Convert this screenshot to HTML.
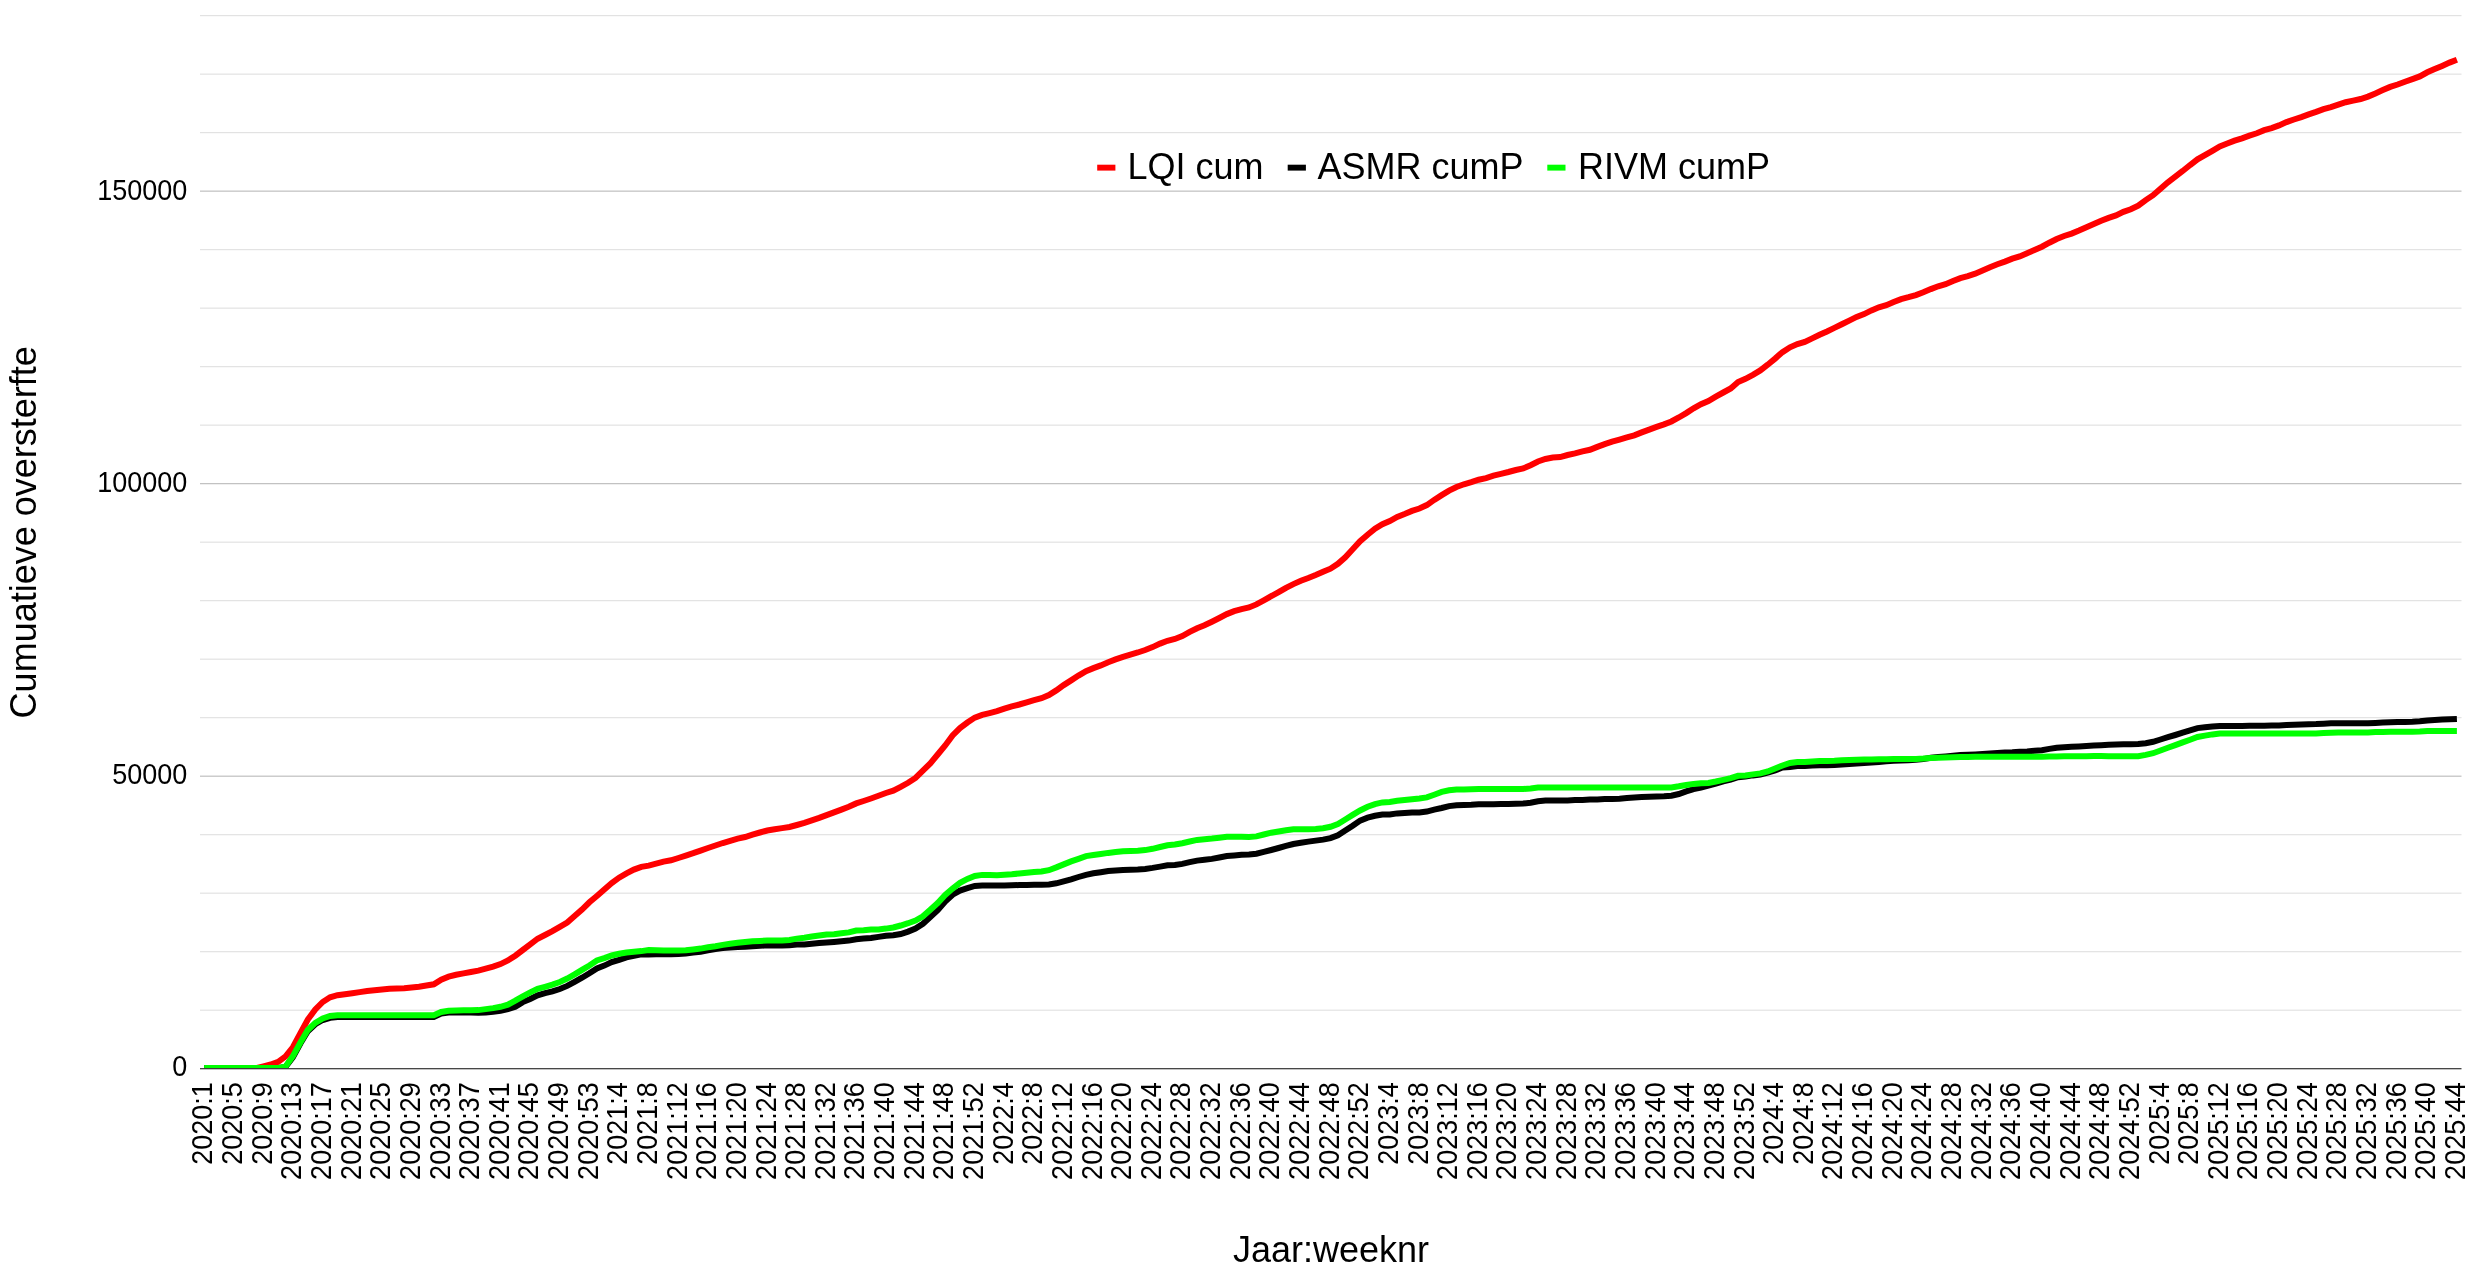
<!DOCTYPE html>
<html lang="nl"><head><meta charset="utf-8"><title>Cumuatieve oversterfte</title>
<style>
html,body{margin:0;padding:0;background:#fff;}
body{width:2474px;height:1269px;overflow:hidden;}
svg{display:block;will-change:transform;}
text{font-family:"Liberation Sans",Arial,sans-serif;fill:#000;}
.lab{font-size:27px;}
.ttl{font-size:36px;}
.leg{font-size:36px;fill:#1a1a1a;}
.ser{fill:none;stroke-width:6;stroke-linejoin:miter;stroke-linecap:butt;}
</style></head><body>
<svg width="2474" height="1269" viewBox="0 0 2474 1269">
<defs><clipPath id="plot"><rect x="200.0" y="0" width="2261.5" height="1068.2"/></clipPath></defs>
<rect width="2474" height="1269" fill="#fff"/>
<g id="grid" shape-rendering="auto">
<rect x="200.0" y="1009.62" width="2261.5" height="1.15" fill="#e1e1e1"/>
<rect x="200.0" y="951.12" width="2261.5" height="1.15" fill="#e1e1e1"/>
<rect x="200.0" y="892.61" width="2261.5" height="1.15" fill="#e1e1e1"/>
<rect x="200.0" y="834.11" width="2261.5" height="1.15" fill="#e1e1e1"/>
<rect x="200.0" y="775.61" width="2261.5" height="1.15" fill="#bdbdbd"/>
<rect x="200.0" y="717.10" width="2261.5" height="1.15" fill="#e1e1e1"/>
<rect x="200.0" y="658.60" width="2261.5" height="1.15" fill="#e1e1e1"/>
<rect x="200.0" y="600.09" width="2261.5" height="1.15" fill="#e1e1e1"/>
<rect x="200.0" y="541.59" width="2261.5" height="1.15" fill="#e1e1e1"/>
<rect x="200.0" y="483.09" width="2261.5" height="1.15" fill="#bdbdbd"/>
<rect x="200.0" y="424.58" width="2261.5" height="1.15" fill="#e1e1e1"/>
<rect x="200.0" y="366.08" width="2261.5" height="1.15" fill="#e1e1e1"/>
<rect x="200.0" y="307.57" width="2261.5" height="1.15" fill="#e1e1e1"/>
<rect x="200.0" y="249.07" width="2261.5" height="1.15" fill="#e1e1e1"/>
<rect x="200.0" y="190.57" width="2261.5" height="1.15" fill="#bdbdbd"/>
<rect x="200.0" y="132.06" width="2261.5" height="1.15" fill="#e1e1e1"/>
<rect x="200.0" y="73.56" width="2261.5" height="1.15" fill="#e1e1e1"/>
<rect x="200.0" y="15.05" width="2261.5" height="1.15" fill="#e1e1e1"/>
</g>
<g class="lab" text-anchor="end">
<text transform="translate(187.3,1075.6) scale(1,1.06)">0</text>
<text transform="translate(187.3,784.0) scale(1,1.06)">50000</text>
<text transform="translate(187.3,492.0) scale(1,1.06)">100000</text>
<text transform="translate(187.3,200.1) scale(1,1.06)">150000</text>
</g>
<g clip-path="url(#plot)">
<path class="ser" stroke="#ff0000" d="M204.1,1068.1L211.5,1068.1L218.9,1068.1L226.3,1068.1L233.7,1068.1L241.2,1068.1L248.6,1068.1L256.0,1068.1L263.4,1066.3L270.8,1064.5L278.2,1061.8L285.6,1056.3L293.0,1047.0L300.4,1033.3L307.8,1019.5L315.3,1009.5L322.7,1002.0L330.1,997.3L337.5,995.2L344.9,994.2L352.3,993.2L359.7,992.1L367.1,991.0L374.5,990.3L382.0,989.5L389.4,988.8L396.8,988.5L404.2,988.2L411.6,987.5L419.0,986.7L426.4,985.5L433.8,984.3L441.2,979.6L448.6,976.7L456.1,974.8L463.5,973.4L470.9,972.0L478.3,970.6L485.7,968.7L493.1,966.7L500.5,964.1L507.9,960.5L515.3,955.7L522.8,950.0L530.2,944.4L537.6,938.7L545.0,935.0L552.4,931.1L559.8,926.9L567.2,922.5L574.6,916.1L582.0,909.6L589.4,902.3L596.9,896.0L604.3,889.5L611.7,883.1L619.1,877.7L626.5,873.4L633.9,869.6L641.3,866.9L648.7,865.6L656.1,863.7L663.6,861.6L671.0,860.3L678.4,858.0L685.8,855.6L693.2,853.2L700.6,850.6L708.0,848.0L715.4,845.5L722.8,843.0L730.2,840.8L737.7,838.6L745.1,837.0L752.5,834.6L759.9,832.5L767.3,830.5L774.7,829.3L782.1,828.1L789.5,827.0L796.9,825.0L804.4,822.9L811.8,820.4L819.2,817.9L826.6,815.1L834.0,812.4L841.4,809.6L848.8,806.8L856.2,803.4L863.6,801.0L871.0,798.5L878.5,795.8L885.9,793.0L893.3,790.6L900.7,786.9L908.1,782.8L915.5,778.0L922.9,770.7L930.3,763.4L937.7,754.5L945.2,745.5L952.6,735.4L960.0,728.1L967.4,722.5L974.8,717.6L982.2,714.9L989.6,713.1L997.0,711.2L1004.4,708.6L1011.8,706.3L1019.3,704.5L1026.7,702.3L1034.1,700.2L1041.5,698.2L1048.9,695.0L1056.3,690.4L1063.7,685.1L1071.1,680.4L1078.5,675.6L1086.0,671.1L1093.4,668.1L1100.8,665.4L1108.2,662.2L1115.6,659.4L1123.0,656.8L1130.4,654.6L1137.8,652.5L1145.2,650.0L1152.6,647.1L1160.1,643.6L1167.5,640.8L1174.9,639.0L1182.3,636.0L1189.7,631.9L1197.1,628.2L1204.5,625.3L1211.9,621.7L1219.3,618.0L1226.8,614.1L1234.2,611.2L1241.6,609.1L1249.0,607.5L1256.4,604.4L1263.8,600.4L1271.2,596.2L1278.6,592.2L1286.0,587.8L1293.4,584.1L1300.9,580.8L1308.3,578.0L1315.7,575.0L1323.1,571.8L1330.5,568.7L1337.9,563.8L1345.3,557.3L1352.7,549.3L1360.1,541.2L1367.6,534.7L1375.0,528.7L1382.4,524.2L1389.8,521.0L1397.2,516.9L1404.6,514.0L1412.0,510.9L1419.4,508.5L1426.8,505.1L1434.2,499.9L1441.7,495.1L1449.1,490.6L1456.5,487.0L1463.9,484.3L1471.3,482.2L1478.7,479.7L1486.1,478.1L1493.5,475.7L1500.9,473.8L1508.4,472.0L1515.8,470.0L1523.2,468.4L1530.6,465.2L1538.0,461.5L1545.4,459.0L1552.8,457.6L1560.2,457.1L1567.6,455.0L1575.0,453.4L1582.5,451.4L1589.9,449.8L1597.3,446.9L1604.7,444.2L1612.1,441.7L1619.5,439.6L1626.9,437.4L1634.3,435.3L1641.7,432.4L1649.2,429.6L1656.6,426.9L1664.0,424.4L1671.4,421.5L1678.8,417.5L1686.2,413.1L1693.6,408.3L1701.0,404.2L1708.4,401.0L1715.8,396.6L1723.3,392.5L1730.7,388.5L1738.1,382.0L1745.5,378.8L1752.9,374.8L1760.3,370.4L1767.7,364.7L1775.1,358.6L1782.5,352.1L1790.0,347.3L1797.4,344.0L1804.8,341.9L1812.2,338.4L1819.6,334.7L1827.0,331.4L1834.4,327.9L1841.8,324.2L1849.2,320.6L1856.6,316.9L1864.1,314.1L1871.5,310.4L1878.9,307.3L1886.3,305.2L1893.7,302.0L1901.1,299.1L1908.5,297.2L1915.9,295.1L1923.3,292.3L1930.8,289.1L1938.2,286.3L1945.6,284.2L1953.0,281.0L1960.4,278.1L1967.8,276.1L1975.2,273.7L1982.6,270.5L1990.0,267.2L1997.4,264.3L2004.9,261.6L2012.3,258.7L2019.7,256.4L2027.1,253.2L2034.5,249.9L2041.9,246.7L2049.3,242.7L2056.7,239.0L2064.1,236.0L2071.6,233.6L2079.0,230.5L2086.4,227.2L2093.8,224.0L2101.2,220.8L2108.6,217.9L2116.0,215.4L2123.4,211.9L2130.8,209.3L2138.2,205.7L2145.7,200.1L2153.1,195.2L2160.5,188.7L2167.9,182.3L2175.3,176.6L2182.7,171.0L2190.1,165.0L2197.5,159.3L2204.9,155.1L2212.4,150.8L2219.8,146.4L2227.2,143.5L2234.6,140.7L2242.0,138.3L2249.4,135.7L2256.8,133.3L2264.2,130.2L2271.6,128.1L2279.0,125.4L2286.5,122.1L2293.9,119.5L2301.3,117.1L2308.7,114.4L2316.1,111.9L2323.5,109.2L2330.9,107.1L2338.3,104.7L2345.7,102.2L2353.2,100.6L2360.6,99.0L2368.0,96.6L2375.4,93.4L2382.8,90.1L2390.2,86.9L2397.6,84.5L2405.0,81.7L2412.4,79.1L2419.8,76.4L2427.3,72.3L2434.7,69.1L2442.1,65.9L2449.5,62.6L2456.9,59.7"/>
<path class="ser" stroke="#000000" d="M204.1,1068.1L211.5,1068.1L218.9,1068.1L226.3,1068.1L233.7,1068.1L241.2,1068.1L248.6,1068.1L256.0,1068.1L263.4,1068.1L270.8,1068.1L278.2,1068.1L285.6,1066.8L293.0,1057.0L300.4,1043.5L307.8,1031.2L315.3,1024.2L322.7,1020.0L330.1,1017.8L337.5,1017.0L344.9,1017.0L352.3,1017.0L359.7,1017.0L367.1,1017.0L374.5,1017.0L382.0,1017.0L389.4,1017.0L396.8,1017.0L404.2,1017.0L411.6,1017.0L419.0,1017.0L426.4,1017.0L433.8,1017.0L441.2,1013.6L448.6,1012.5L456.1,1012.5L463.5,1012.5L470.9,1012.6L478.3,1012.8L485.7,1012.5L493.1,1011.7L500.5,1010.9L507.9,1009.2L515.3,1006.7L522.8,1002.1L530.2,998.9L537.6,995.4L545.0,993.2L552.4,991.4L559.8,989.0L567.2,985.9L574.6,981.9L582.0,977.7L589.4,973.2L596.9,968.4L604.3,965.6L611.7,962.1L619.1,959.8L626.5,957.3L633.9,955.8L641.3,954.2L648.7,954.4L656.1,954.3L663.6,954.3L671.0,954.3L678.4,953.9L685.8,953.5L693.2,952.6L700.6,951.7L708.0,950.4L715.4,949.1L722.8,948.1L730.2,947.5L737.7,947.1L745.1,946.7L752.5,946.3L759.9,945.8L767.3,945.3L774.7,945.4L782.1,945.4L789.5,945.2L796.9,944.6L804.4,944.4L811.8,943.8L819.2,943.1L826.6,942.5L834.0,941.9L841.4,941.2L848.8,940.6L856.2,939.2L863.6,938.6L871.0,938.0L878.5,936.9L885.9,935.8L893.3,935.2L900.7,934.0L908.1,931.6L915.5,928.5L922.9,923.8L930.3,917.1L937.7,910.2L945.2,901.5L952.6,894.7L960.0,890.6L967.4,888.2L974.8,885.9L982.2,885.5L989.6,885.5L997.0,885.5L1004.4,885.4L1011.8,885.2L1019.3,885.1L1026.7,885.0L1034.1,884.8L1041.5,884.7L1048.9,884.4L1056.3,883.3L1063.7,881.3L1071.1,879.3L1078.5,877.0L1086.0,874.8L1093.4,873.3L1100.8,872.2L1108.2,871.0L1115.6,870.5L1123.0,869.9L1130.4,869.7L1137.8,869.5L1145.2,869.0L1152.6,867.9L1160.1,866.6L1167.5,865.3L1174.9,865.0L1182.3,863.9L1189.7,862.2L1197.1,860.6L1204.5,859.8L1211.9,858.9L1219.3,857.5L1226.8,856.1L1234.2,855.5L1241.6,854.8L1249.0,854.5L1256.4,853.7L1263.8,851.9L1271.2,850.0L1278.6,848.0L1286.0,845.9L1293.4,844.0L1300.9,842.8L1308.3,841.6L1315.7,840.6L1323.1,839.6L1330.5,838.1L1337.9,835.2L1345.3,830.5L1352.7,825.8L1360.1,820.6L1367.6,817.7L1375.0,815.8L1382.4,814.5L1389.8,814.5L1397.2,813.4L1404.6,812.9L1412.0,812.4L1419.4,812.4L1426.8,811.6L1434.2,809.6L1441.7,808.0L1449.1,806.1L1456.5,805.3L1463.9,805.0L1471.3,804.8L1478.7,804.3L1486.1,804.2L1493.5,804.2L1500.9,804.1L1508.4,804.0L1515.8,803.8L1523.2,803.5L1530.6,802.7L1538.0,801.2L1545.4,800.6L1552.8,800.6L1560.2,800.6L1567.6,800.4L1575.0,800.1L1582.5,799.9L1589.9,799.6L1597.3,799.4L1604.7,799.1L1612.1,798.9L1619.5,798.7L1626.9,798.1L1634.3,797.5L1641.7,797.1L1649.2,796.7L1656.6,796.5L1664.0,796.2L1671.4,795.7L1678.8,794.0L1686.2,791.4L1693.6,789.1L1701.0,787.5L1708.4,785.6L1715.8,783.6L1723.3,781.3L1730.7,779.6L1738.1,777.2L1745.5,776.4L1752.9,775.4L1760.3,774.6L1767.7,772.7L1775.1,770.3L1782.5,767.5L1790.0,766.9L1797.4,766.1L1804.8,766.1L1812.2,765.6L1819.6,765.3L1827.0,765.2L1834.4,765.1L1841.8,764.5L1849.2,764.0L1856.6,763.5L1864.1,762.9L1871.5,762.4L1878.9,761.9L1886.3,761.3L1893.7,760.8L1901.1,760.5L1908.5,760.3L1915.9,759.7L1923.3,759.1L1930.8,757.8L1938.2,757.1L1945.6,756.4L1953.0,755.8L1960.4,755.1L1967.8,754.7L1975.2,754.4L1982.6,754.0L1990.0,753.5L1997.4,753.0L2004.9,752.6L2012.3,752.3L2019.7,751.8L2027.1,751.4L2034.5,750.8L2041.9,750.2L2049.3,748.9L2056.7,747.8L2064.1,747.3L2071.6,746.8L2079.0,746.4L2086.4,746.0L2093.8,745.6L2101.2,745.2L2108.6,744.7L2116.0,744.5L2123.4,744.2L2130.8,744.2L2138.2,744.1L2145.7,743.2L2153.1,741.8L2160.5,739.5L2167.9,737.2L2175.3,735.0L2182.7,732.7L2190.1,730.4L2197.5,728.1L2204.9,727.3L2212.4,726.4L2219.8,725.9L2227.2,725.9L2234.6,725.9L2242.0,725.9L2249.4,725.8L2256.8,725.8L2264.2,725.7L2271.6,725.6L2279.0,725.5L2286.5,725.1L2293.9,724.8L2301.3,724.6L2308.7,724.3L2316.1,724.1L2323.5,723.7L2330.9,723.3L2338.3,723.3L2345.7,723.3L2353.2,723.3L2360.6,723.2L2368.0,723.2L2375.4,722.9L2382.8,722.5L2390.2,722.2L2397.6,722.0L2405.0,721.9L2412.4,721.7L2419.8,721.2L2427.3,720.4L2434.7,720.0L2442.1,719.6L2449.5,719.2L2456.9,718.9"/>
<path class="ser" stroke="#00ff00" d="M204.1,1068.1L211.5,1068.1L218.9,1068.1L226.3,1068.1L233.7,1068.1L241.2,1068.1L248.6,1068.1L256.0,1068.1L263.4,1068.1L270.8,1068.1L278.2,1068.1L285.6,1066.5L293.0,1056.0L300.4,1042.5L307.8,1030.0L315.3,1022.8L322.7,1018.5L330.1,1016.0L337.5,1015.2L344.9,1015.2L352.3,1015.2L359.7,1015.2L367.1,1015.2L374.5,1015.2L382.0,1015.2L389.4,1015.2L396.8,1015.2L404.2,1015.2L411.6,1015.2L419.0,1015.2L426.4,1015.2L433.8,1015.2L441.2,1012.0L448.6,1010.7L456.1,1010.5L463.5,1010.2L470.9,1010.2L478.3,1010.1L485.7,1009.1L493.1,1008.1L500.5,1006.8L507.9,1004.6L515.3,1000.7L522.8,996.3L530.2,992.4L537.6,988.9L545.0,986.8L552.4,984.6L559.8,982.0L567.2,978.6L574.6,974.4L582.0,969.9L589.4,965.5L596.9,960.5L604.3,958.1L611.7,955.5L619.1,953.8L626.5,952.5L633.9,951.7L641.3,951.1L648.7,950.1L656.1,950.2L663.6,950.5L671.0,950.4L678.4,950.4L685.8,950.3L693.2,949.4L700.6,948.6L708.0,947.3L715.4,946.2L722.8,944.9L730.2,943.7L737.7,942.8L745.1,942.0L752.5,941.3L759.9,940.9L767.3,940.5L774.7,940.5L782.1,940.5L789.5,939.9L796.9,938.6L804.4,937.8L811.8,936.5L819.2,935.6L826.6,934.6L834.0,934.2L841.4,933.3L848.8,932.4L856.2,930.5L863.6,930.2L871.0,929.6L878.5,929.5L885.9,928.6L893.3,927.5L900.7,925.5L908.1,923.2L915.5,920.5L922.9,916.3L930.3,909.7L937.7,903.0L945.2,895.0L952.6,888.5L960.0,882.8L967.4,878.9L974.8,876.0L982.2,874.9L989.6,875.0L997.0,875.2L1004.4,874.7L1011.8,874.2L1019.3,873.5L1026.7,872.8L1034.1,872.1L1041.5,871.5L1048.9,870.2L1056.3,867.4L1063.7,864.4L1071.1,861.4L1078.5,858.8L1086.0,856.1L1093.4,855.0L1100.8,854.0L1108.2,852.9L1115.6,852.1L1123.0,851.3L1130.4,851.0L1137.8,850.8L1145.2,850.1L1152.6,848.8L1160.1,847.0L1167.5,845.3L1174.9,844.5L1182.3,843.2L1189.7,841.5L1197.1,839.9L1204.5,839.2L1211.9,838.6L1219.3,837.7L1226.8,836.7L1234.2,836.7L1241.6,836.7L1249.0,837.0L1256.4,836.4L1263.8,834.5L1271.2,832.7L1278.6,831.5L1286.0,830.3L1293.4,829.3L1300.9,829.3L1308.3,829.3L1315.7,829.0L1323.1,828.3L1330.5,826.8L1337.9,824.0L1345.3,819.5L1352.7,814.9L1360.1,810.5L1367.6,806.8L1375.0,804.1L1382.4,802.4L1389.8,802.0L1397.2,800.8L1404.6,800.0L1412.0,799.2L1419.4,798.4L1426.8,797.4L1434.2,794.7L1441.7,791.9L1449.1,790.3L1456.5,789.5L1463.9,789.4L1471.3,789.2L1478.7,789.1L1486.1,789.1L1493.5,789.0L1500.9,789.0L1508.4,789.0L1515.8,789.0L1523.2,789.0L1530.6,788.4L1538.0,787.6L1545.4,787.4L1552.8,787.4L1560.2,787.4L1567.6,787.4L1575.0,787.4L1582.5,787.4L1589.9,787.4L1597.3,787.4L1604.7,787.4L1612.1,787.4L1619.5,787.4L1626.9,787.4L1634.3,787.4L1641.7,787.4L1649.2,787.4L1656.6,787.4L1664.0,787.4L1671.4,787.4L1678.8,786.3L1686.2,785.0L1693.6,783.9L1701.0,783.3L1708.4,782.9L1715.8,781.5L1723.3,779.9L1730.7,778.2L1738.1,775.8L1745.5,775.5L1752.9,774.4L1760.3,773.4L1767.7,771.5L1775.1,768.5L1782.5,765.5L1790.0,762.9L1797.4,762.0L1804.8,762.0L1812.2,761.6L1819.6,761.1L1827.0,761.0L1834.4,760.8L1841.8,760.3L1849.2,759.9L1856.6,759.7L1864.1,759.5L1871.5,759.4L1878.9,759.3L1886.3,759.2L1893.7,759.1L1901.1,759.1L1908.5,759.1L1915.9,758.9L1923.3,758.6L1930.8,758.0L1938.2,757.8L1945.6,757.5L1953.0,757.2L1960.4,757.0L1967.8,756.9L1975.2,756.8L1982.6,756.7L1990.0,756.7L1997.4,756.7L2004.9,756.7L2012.3,756.7L2019.7,756.7L2027.1,756.7L2034.5,756.7L2041.9,756.7L2049.3,756.5L2056.7,756.4L2064.1,756.3L2071.6,756.3L2079.0,756.2L2086.4,756.2L2093.8,756.1L2101.2,756.1L2108.6,756.2L2116.0,756.2L2123.4,756.2L2130.8,756.3L2138.2,756.3L2145.7,754.9L2153.1,753.2L2160.5,750.5L2167.9,747.8L2175.3,745.1L2182.7,742.4L2190.1,739.7L2197.5,737.0L2204.9,735.6L2212.4,734.4L2219.8,733.6L2227.2,733.6L2234.6,733.6L2242.0,733.6L2249.4,733.6L2256.8,733.6L2264.2,733.6L2271.6,733.5L2279.0,733.5L2286.5,733.5L2293.9,733.5L2301.3,733.5L2308.7,733.5L2316.1,733.5L2323.5,733.0L2330.9,732.8L2338.3,732.6L2345.7,732.6L2353.2,732.5L2360.6,732.5L2368.0,732.5L2375.4,732.1L2382.8,732.0L2390.2,731.8L2397.6,731.8L2405.0,731.7L2412.4,731.7L2419.8,731.5L2427.3,730.9L2434.7,730.9L2442.1,730.9L2449.5,730.9L2456.9,730.9"/>
</g>
<rect x="200.0" y="1068.1" width="2261.5" height="1.2" fill="#333333"/>
<g class="lab"><text transform="translate(212.40,1082.3) rotate(-90) scale(1,1.06)" text-anchor="end">2020:1</text>
<text transform="translate(242.04,1082.3) rotate(-90) scale(1,1.06)" text-anchor="end">2020:5</text>
<text transform="translate(271.68,1082.3) rotate(-90) scale(1,1.06)" text-anchor="end">2020:9</text>
<text transform="translate(301.31,1082.3) rotate(-90) scale(1,1.06)" text-anchor="end">2020:13</text>
<text transform="translate(330.95,1082.3) rotate(-90) scale(1,1.06)" text-anchor="end">2020:17</text>
<text transform="translate(360.59,1082.3) rotate(-90) scale(1,1.06)" text-anchor="end">2020:21</text>
<text transform="translate(390.23,1082.3) rotate(-90) scale(1,1.06)" text-anchor="end">2020:25</text>
<text transform="translate(419.87,1082.3) rotate(-90) scale(1,1.06)" text-anchor="end">2020:29</text>
<text transform="translate(449.50,1082.3) rotate(-90) scale(1,1.06)" text-anchor="end">2020:33</text>
<text transform="translate(479.14,1082.3) rotate(-90) scale(1,1.06)" text-anchor="end">2020:37</text>
<text transform="translate(508.78,1082.3) rotate(-90) scale(1,1.06)" text-anchor="end">2020:41</text>
<text transform="translate(538.42,1082.3) rotate(-90) scale(1,1.06)" text-anchor="end">2020:45</text>
<text transform="translate(568.06,1082.3) rotate(-90) scale(1,1.06)" text-anchor="end">2020:49</text>
<text transform="translate(597.69,1082.3) rotate(-90) scale(1,1.06)" text-anchor="end">2020:53</text>
<text transform="translate(627.33,1082.3) rotate(-90) scale(1,1.06)" text-anchor="end">2021:4</text>
<text transform="translate(656.97,1082.3) rotate(-90) scale(1,1.06)" text-anchor="end">2021:8</text>
<text transform="translate(686.61,1082.3) rotate(-90) scale(1,1.06)" text-anchor="end">2021:12</text>
<text transform="translate(716.25,1082.3) rotate(-90) scale(1,1.06)" text-anchor="end">2021:16</text>
<text transform="translate(745.88,1082.3) rotate(-90) scale(1,1.06)" text-anchor="end">2021:20</text>
<text transform="translate(775.52,1082.3) rotate(-90) scale(1,1.06)" text-anchor="end">2021:24</text>
<text transform="translate(805.16,1082.3) rotate(-90) scale(1,1.06)" text-anchor="end">2021:28</text>
<text transform="translate(834.80,1082.3) rotate(-90) scale(1,1.06)" text-anchor="end">2021:32</text>
<text transform="translate(864.44,1082.3) rotate(-90) scale(1,1.06)" text-anchor="end">2021:36</text>
<text transform="translate(894.07,1082.3) rotate(-90) scale(1,1.06)" text-anchor="end">2021:40</text>
<text transform="translate(923.71,1082.3) rotate(-90) scale(1,1.06)" text-anchor="end">2021:44</text>
<text transform="translate(953.35,1082.3) rotate(-90) scale(1,1.06)" text-anchor="end">2021:48</text>
<text transform="translate(982.99,1082.3) rotate(-90) scale(1,1.06)" text-anchor="end">2021:52</text>
<text transform="translate(1012.63,1082.3) rotate(-90) scale(1,1.06)" text-anchor="end">2022:4</text>
<text transform="translate(1042.26,1082.3) rotate(-90) scale(1,1.06)" text-anchor="end">2022:8</text>
<text transform="translate(1071.90,1082.3) rotate(-90) scale(1,1.06)" text-anchor="end">2022:12</text>
<text transform="translate(1101.54,1082.3) rotate(-90) scale(1,1.06)" text-anchor="end">2022:16</text>
<text transform="translate(1131.18,1082.3) rotate(-90) scale(1,1.06)" text-anchor="end">2022:20</text>
<text transform="translate(1160.82,1082.3) rotate(-90) scale(1,1.06)" text-anchor="end">2022:24</text>
<text transform="translate(1190.45,1082.3) rotate(-90) scale(1,1.06)" text-anchor="end">2022:28</text>
<text transform="translate(1220.09,1082.3) rotate(-90) scale(1,1.06)" text-anchor="end">2022:32</text>
<text transform="translate(1249.73,1082.3) rotate(-90) scale(1,1.06)" text-anchor="end">2022:36</text>
<text transform="translate(1279.37,1082.3) rotate(-90) scale(1,1.06)" text-anchor="end">2022:40</text>
<text transform="translate(1309.01,1082.3) rotate(-90) scale(1,1.06)" text-anchor="end">2022:44</text>
<text transform="translate(1338.64,1082.3) rotate(-90) scale(1,1.06)" text-anchor="end">2022:48</text>
<text transform="translate(1368.28,1082.3) rotate(-90) scale(1,1.06)" text-anchor="end">2022:52</text>
<text transform="translate(1397.92,1082.3) rotate(-90) scale(1,1.06)" text-anchor="end">2023:4</text>
<text transform="translate(1427.56,1082.3) rotate(-90) scale(1,1.06)" text-anchor="end">2023:8</text>
<text transform="translate(1457.20,1082.3) rotate(-90) scale(1,1.06)" text-anchor="end">2023:12</text>
<text transform="translate(1486.83,1082.3) rotate(-90) scale(1,1.06)" text-anchor="end">2023:16</text>
<text transform="translate(1516.47,1082.3) rotate(-90) scale(1,1.06)" text-anchor="end">2023:20</text>
<text transform="translate(1546.11,1082.3) rotate(-90) scale(1,1.06)" text-anchor="end">2023:24</text>
<text transform="translate(1575.75,1082.3) rotate(-90) scale(1,1.06)" text-anchor="end">2023:28</text>
<text transform="translate(1605.39,1082.3) rotate(-90) scale(1,1.06)" text-anchor="end">2023:32</text>
<text transform="translate(1635.02,1082.3) rotate(-90) scale(1,1.06)" text-anchor="end">2023:36</text>
<text transform="translate(1664.66,1082.3) rotate(-90) scale(1,1.06)" text-anchor="end">2023:40</text>
<text transform="translate(1694.30,1082.3) rotate(-90) scale(1,1.06)" text-anchor="end">2023:44</text>
<text transform="translate(1723.94,1082.3) rotate(-90) scale(1,1.06)" text-anchor="end">2023:48</text>
<text transform="translate(1753.58,1082.3) rotate(-90) scale(1,1.06)" text-anchor="end">2023:52</text>
<text transform="translate(1783.21,1082.3) rotate(-90) scale(1,1.06)" text-anchor="end">2024:4</text>
<text transform="translate(1812.85,1082.3) rotate(-90) scale(1,1.06)" text-anchor="end">2024:8</text>
<text transform="translate(1842.49,1082.3) rotate(-90) scale(1,1.06)" text-anchor="end">2024:12</text>
<text transform="translate(1872.13,1082.3) rotate(-90) scale(1,1.06)" text-anchor="end">2024:16</text>
<text transform="translate(1901.77,1082.3) rotate(-90) scale(1,1.06)" text-anchor="end">2024:20</text>
<text transform="translate(1931.40,1082.3) rotate(-90) scale(1,1.06)" text-anchor="end">2024:24</text>
<text transform="translate(1961.04,1082.3) rotate(-90) scale(1,1.06)" text-anchor="end">2024:28</text>
<text transform="translate(1990.68,1082.3) rotate(-90) scale(1,1.06)" text-anchor="end">2024:32</text>
<text transform="translate(2020.32,1082.3) rotate(-90) scale(1,1.06)" text-anchor="end">2024:36</text>
<text transform="translate(2049.96,1082.3) rotate(-90) scale(1,1.06)" text-anchor="end">2024:40</text>
<text transform="translate(2079.59,1082.3) rotate(-90) scale(1,1.06)" text-anchor="end">2024:44</text>
<text transform="translate(2109.23,1082.3) rotate(-90) scale(1,1.06)" text-anchor="end">2024:48</text>
<text transform="translate(2138.87,1082.3) rotate(-90) scale(1,1.06)" text-anchor="end">2024:52</text>
<text transform="translate(2168.51,1082.3) rotate(-90) scale(1,1.06)" text-anchor="end">2025:4</text>
<text transform="translate(2198.15,1082.3) rotate(-90) scale(1,1.06)" text-anchor="end">2025:8</text>
<text transform="translate(2227.78,1082.3) rotate(-90) scale(1,1.06)" text-anchor="end">2025:12</text>
<text transform="translate(2257.42,1082.3) rotate(-90) scale(1,1.06)" text-anchor="end">2025:16</text>
<text transform="translate(2287.06,1082.3) rotate(-90) scale(1,1.06)" text-anchor="end">2025:20</text>
<text transform="translate(2316.70,1082.3) rotate(-90) scale(1,1.06)" text-anchor="end">2025:24</text>
<text transform="translate(2346.34,1082.3) rotate(-90) scale(1,1.06)" text-anchor="end">2025:28</text>
<text transform="translate(2375.97,1082.3) rotate(-90) scale(1,1.06)" text-anchor="end">2025:32</text>
<text transform="translate(2405.61,1082.3) rotate(-90) scale(1,1.06)" text-anchor="end">2025:36</text>
<text transform="translate(2435.25,1082.3) rotate(-90) scale(1,1.06)" text-anchor="end">2025:40</text>
<text transform="translate(2464.89,1082.3) rotate(-90) scale(1,1.06)" text-anchor="end">2025:44</text></g>
<g class="leg">
<rect x="1097.2" y="164.7" width="18.2" height="5.9" fill="#ff0000"/><text x="1127.5" y="179.2">LQI cum</text>
<rect x="1287.7" y="164.7" width="18.2" height="5.9" fill="#000000"/><text x="1317.5" y="179.2">ASMR cumP</text>
<rect x="1547.3" y="164.7" width="18.2" height="5.9" fill="#00ff00"/><text x="1578" y="179.2">RIVM cumP</text>
</g>
<text class="ttl" text-anchor="middle" x="1331" y="1262.2">Jaar:weeknr</text>
<text class="ttl" text-anchor="middle" transform="translate(36.2,532.3) rotate(-90)">Cumuatieve oversterfte</text>
</svg></body></html>
